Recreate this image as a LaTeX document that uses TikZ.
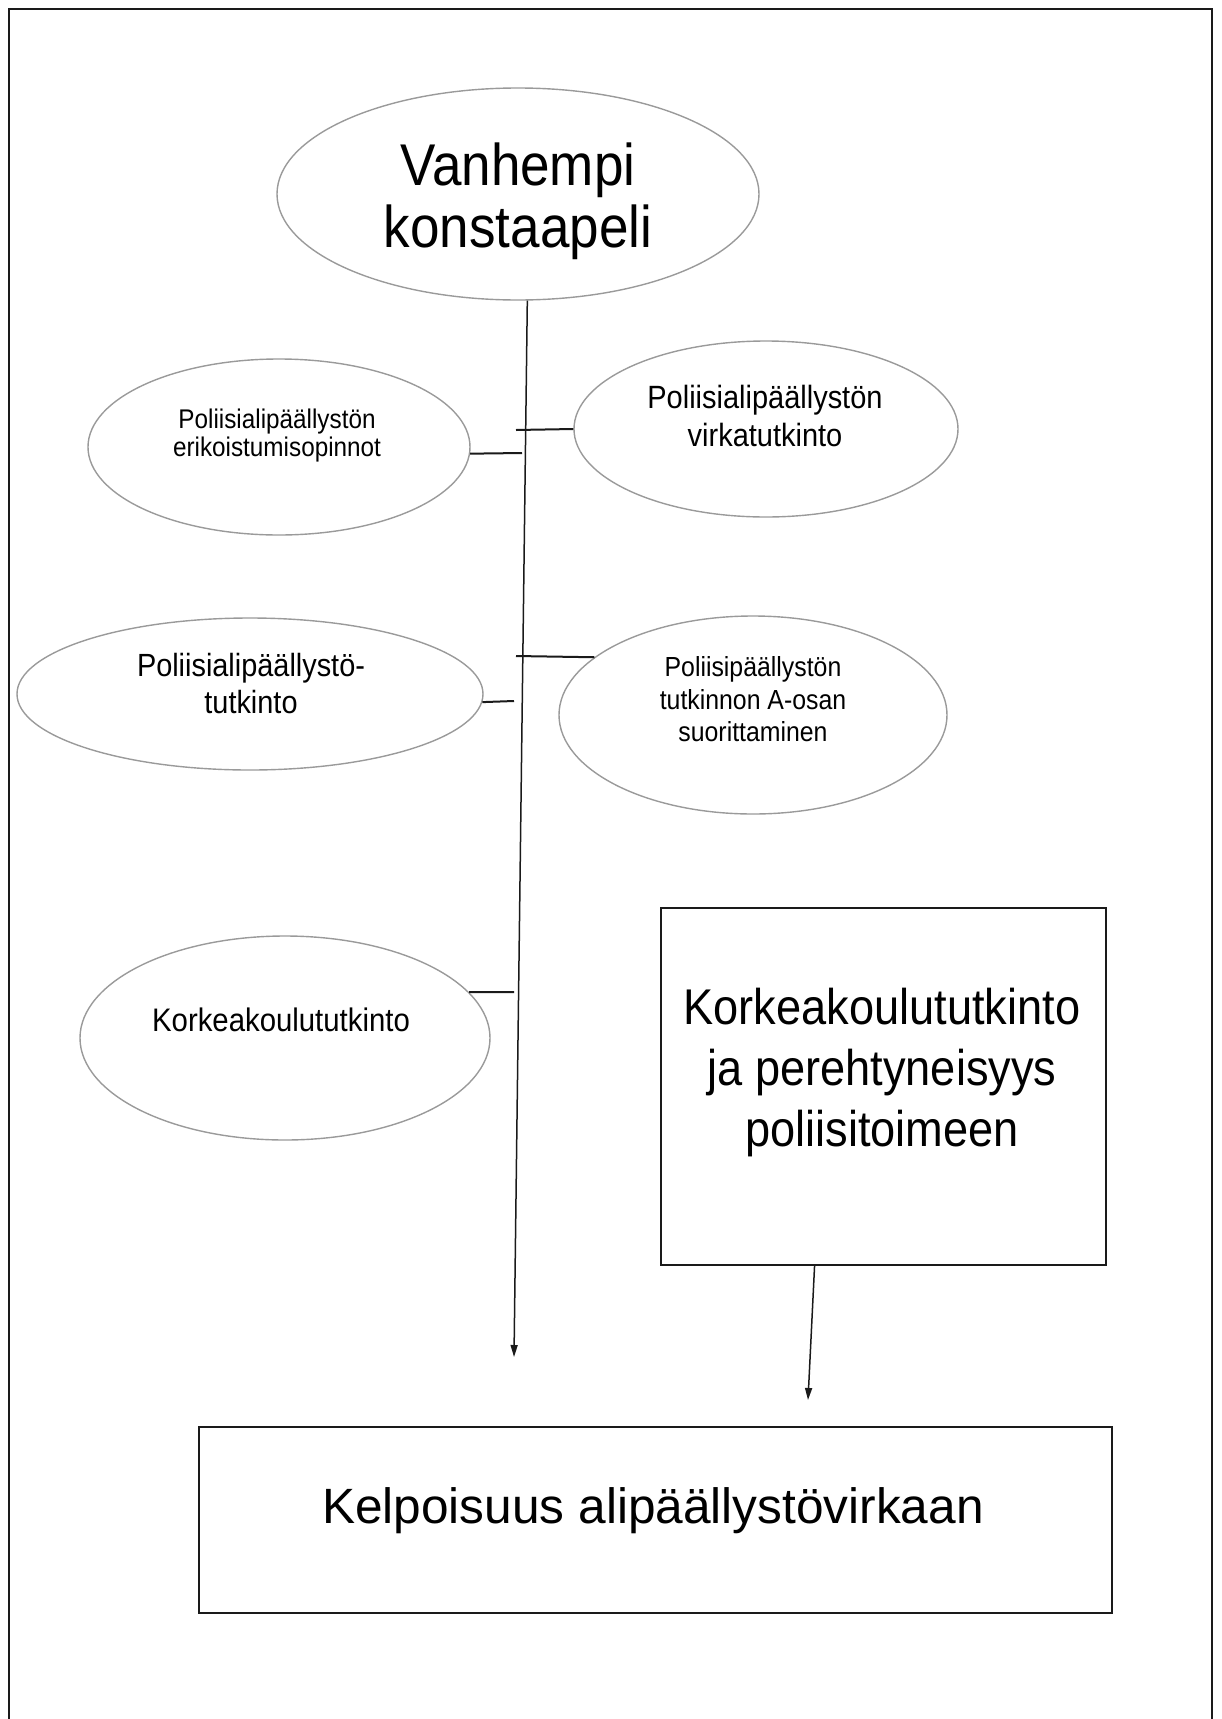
\documentclass[tikz,border=0pt]{standalone}
\usepackage{fontspec}
\setmainfont{Liberation Sans}
\newfontfamily\narrowsans{Liberation Sans}[FakeStretch=0.9]
\usetikzlibrary{arrows.meta,shapes.geometric}
\definecolor{ovalgray}{HTML}{9A9A9A}
\definecolor{inkblack}{HTML}{1A1A1A}
\newcommand{\txtsize}[2]{\fontsize{#1}{#2}\selectfont}

\begin{document}
\begin{tikzpicture}[
  x=1pt, y=-1pt,
  oval/.style={ellipse, draw=ovalgray, line width=1.4pt, inner sep=0pt},
  box/.style={rectangle, draw=inkblack, line width=2.2pt, inner sep=0pt},
  lbl/.style={align=center, inner sep=0pt},
  tick/.style={inkblack, line width=2pt},
  flow/.style={-{Triangle[length=12pt,width=7pt]}, inkblack, line width=1.5pt},
]
\useasboundingbox (0,0) rectangle (1222,1719);

% ---- page frame ----
\draw[inkblack, line width=1.6pt] (9,1730) -- (9,9) -- (1212,9) -- (1212,1730);

% ---- top oval ----
\node[oval, minimum width=482pt, minimum height=212pt] (top) at (518,194) {};
\node[lbl, font={\narrowsans\txtsize{58.9}{62}}] (top-t) at (518,201.7) {Vanhempi\\konstaapeli};

% ---- side ovals ----
\node[oval, minimum width=382pt, minimum height=176pt] (erik) at (279,447) {};
\node[lbl, font={\narrowsans\txtsize{27}{28}}] (erik-t) at (277,436) {Poliisialipäällystön\\erikoistumisopinnot};

\node[oval, minimum width=384pt, minimum height=176pt] (virka) at (766,429) {};
\node[lbl, font={\narrowsans\txtsize{32.2}{38.5}}] (virka-t) at (765,415.8) {Poliisialipäällystön\\virkatutkinto};

\node[oval, minimum width=466pt, minimum height=152pt] (aptutk) at (250,694) {};
\node[lbl, font={\narrowsans\txtsize{32.1}{37}}] (aptutk-t) at (251,683.8) {Poliisialipäällystö-\\tutkinto};

\node[oval, minimum width=388pt, minimum height=198pt] (aosa) at (753,715) {};
\node[lbl, font={\narrowsans\txtsize{27.6}{32.5}}] (aosa-t) at (753,699.4) {Poliisipäällystön\\tutkinnon A-osan\\suorittaminen};

\node[oval, minimum width=410pt, minimum height=204pt] (kk) at (285,1038) {};
\node[lbl, font={\narrowsans\txtsize{32.6}{38}}] (kk-t) at (281,1020.1) {Korkeakoulututkinto};

% ---- boxes ----
\node[box, minimum width=445pt, minimum height=357pt] (box1) at (883.5,1086.5) {};
\node[lbl, font={\narrowsans\txtsize{50.2}{61}}] (box1-t) at (882,1072.9) {Korkeakoulututkinto\\ja perehtyneisyys\\poliisitoimeen};

\node[box, minimum width=913pt, minimum height=186pt] (box2) at (655.5,1520) {};
\node[lbl, font=\txtsize{49.6}{57}] (box2-t) at (653,1511) {Kelpoisuus alipäällystövirkaan};

% ---- spine and ticks ----
\coordinate (spineend) at (514,1357);
\draw[flow] (top.275) -- (spineend);

\coordinate (j1) at (516,430);
\coordinate (j2) at (522,453);
\coordinate (j3) at (516,656);
\coordinate (j4) at (514,701);
\coordinate (j5) at (514,992);
\draw[tick] (virka.west) -- (j1);
\draw[tick] (erik.-2) -- (j2);
\draw[tick] (aosa.160) -- (j3);
\draw[tick] (aptutk.-2) -- (j4);
\draw[tick] (kk.14) -- (j5);

% ---- box arrow ----
\coordinate (box1end) at (808,1400);
\draw[flow] (box1.-111) -- (box1end);

\end{tikzpicture}
\end{document}
